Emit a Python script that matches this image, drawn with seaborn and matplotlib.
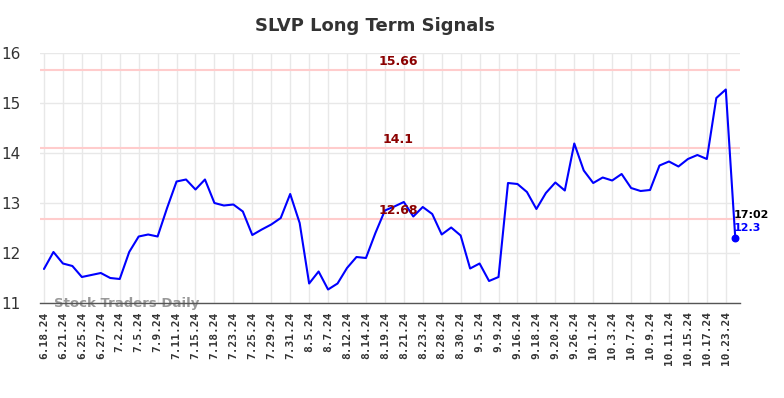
import matplotlib
matplotlib.use("Agg")
import matplotlib.pyplot as plt
import seaborn as sns
import pandas as pd

# chart data
tick_labels = ["6.18.24", "6.21.24", "6.25.24", "6.27.24", "7.2.24", "7.5.24", "7.9.24",
               "7.11.24", "7.15.24", "7.18.24", "7.23.24", "7.25.24", "7.29.24", "7.31.24",
               "8.5.24", "8.7.24", "8.12.24", "8.14.24", "8.19.24", "8.21.24", "8.23.24",
               "8.28.24", "8.30.24", "9.5.24", "9.9.24", "9.16.24", "9.18.24", "9.20.24",
               "9.26.24", "10.1.24", "10.3.24", "10.7.24", "10.9.24", "10.11.24", "10.15.24",
               "10.17.24", "10.23.24"]
prices = [11.68, 12.02, 11.79, 11.74, 11.52, 11.56, 11.60, 11.50, 11.48, 12.02,
          12.33, 12.37, 12.33, 12.90, 13.43, 13.47, 13.27, 13.47, 13.00, 12.95,
          12.97, 12.83, 12.36, 12.47, 12.57, 12.70, 13.18, 12.60, 11.39, 11.63,
          11.27, 11.39, 11.70, 11.92, 11.90, 12.40, 12.85, 12.93, 13.02, 12.73,
          12.92, 12.78, 12.37, 12.51, 12.35, 11.69, 11.79, 11.44, 11.52, 13.40,
          13.38, 13.22, 12.88, 13.20, 13.41, 13.25, 14.19, 13.65, 13.40, 13.51,
          13.45, 13.58, 13.30, 13.24, 13.26, 13.75, 13.83, 13.73, 13.88, 13.96,
          13.88, 15.10, 15.27, 12.30]
signal_levels = [15.66, 14.1, 12.68]
signal_labels = ["15.66", "14.1", "12.68"]
last_time = "17:02"
last_label = "12.3"

sns.set_theme(style="white")

df = pd.DataFrame({"idx": range(len(prices)), "price": prices})

fig = plt.figure(figsize=(7.84, 3.98), dpi=100)
ax = fig.add_axes([40 / 784, 95 / 398, 700 / 784, 250 / 398])

# signal lines
for lvl, lab in zip(signal_levels, signal_labels):
    ax.axhline(lvl, color="#ffcccc", lw=1.5, zorder=1)
    ax.text(37.4, lvl + 0.04, lab, color="#8b0000", fontsize=9, fontweight="bold",
            ha="center", va="bottom", zorder=4)

sns.lineplot(data=df, x="idx", y="price", color="#0000ff", lw=1.5, ax=ax, zorder=3)
ax.scatter([df["idx"].iloc[-1]], [prices[-1]], color="#0000ff", s=22, zorder=5)
ax.text(df["idx"].iloc[-1] - 0.2, prices[-1] + 0.46, last_time, color="black",
        fontsize=8, fontweight="bold", ha="left", va="center")
ax.text(df["idx"].iloc[-1] - 0.2, prices[-1] + 0.2, last_label, color="#0000ff",
        fontsize=8, fontweight="bold", ha="left", va="center")

ax.set_xlim(-0.42, 73.5)
ax.set_ylim(11, 16)
ax.set_xticks(range(0, 2 * len(tick_labels), 2))
ax.set_xticklabels(tick_labels, rotation=90, family="DejaVu Sans Mono",
                   fontweight="bold", fontsize=8)
ax.set_yticks([11, 12, 13, 14, 15, 16])
ax.tick_params(axis="y", labelsize=11, colors="#333333", length=0, pad=14)
ax.tick_params(axis="x", colors="#333333", length=0, pad=6)
ax.grid(True, color="#e8e8e8", lw=1)
ax.set_axisbelow(True)
for s in ["top", "right", "left"]:
    ax.spines[s].set_visible(False)
ax.spines["bottom"].set_color("#555555")
ax.spines["bottom"].set_linewidth(1)
ax.set_xlabel("")
ax.set_ylabel("")

ax.text(0.02, 0.0, "Stock Traders Daily", transform=ax.transAxes, color="#999999",
        fontsize=9.5, fontweight="bold", ha="left", va="center", zorder=2)

fig.suptitle("SLVP Long Term Signals", x=375 / 784, y=1 - 26 / 398, va="center",
             fontsize=13, fontweight="bold", color="#333333")

fig.savefig("out.png", dpi=100)
